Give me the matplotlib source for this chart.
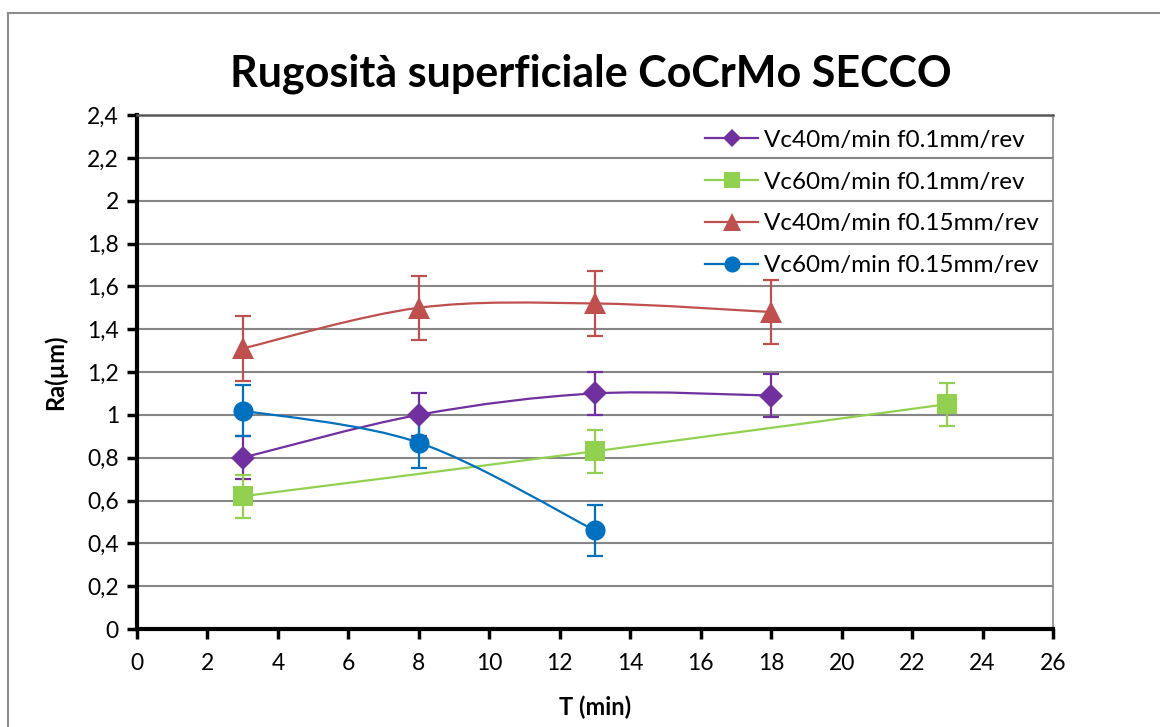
import numpy as np
import matplotlib
matplotlib.use("Agg")
import matplotlib.pyplot as plt
from matplotlib.path import Path
from matplotlib.patches import PathPatch
from matplotlib.lines import Line2D

plt.rcParams['font.family'] = ['Lato', 'DejaVu Sans']

# surface roughness data (Ra in micrometres vs machining time in minutes)
t_vc40_f01 = [3, 8, 13, 18]
ra_vc40_f01 = [0.80, 1.00, 1.10, 1.09]
err_vc40_f01 = [0.10, 0.10, 0.10, 0.10]

t_vc60_f01 = [3, 13, 23]
ra_vc60_f01 = [0.62, 0.83, 1.05]
err_vc60_f01 = [0.10, 0.10, 0.10]

t_vc40_f015 = [3, 8, 13, 18]
ra_vc40_f015 = [1.31, 1.50, 1.52, 1.48]
err_vc40_f015 = [0.15, 0.15, 0.15, 0.15]

t_vc60_f015 = [3, 8, 13]
ra_vc60_f015 = [1.02, 0.87, 0.46]
err_vc60_f015 = [0.12, 0.12, 0.12]

labels = ["Vc40m/min f0.1mm/rev", "Vc60m/min f0.1mm/rev",
          "Vc40m/min f0.15mm/rev", "Vc60m/min f0.15mm/rev"]

x_ticks = list(range(0, 27, 2))
y_ticks = [0, 0.2, 0.4, 0.6, 0.8, 1.0, 1.2, 1.4, 1.6, 1.8, 2.0, 2.2, 2.4]
y_ticklabels = ['0', '0,2', '0,4', '0,6', '0,8', '1', '1,2', '1,4', '1,6',
                '1,8', '2', '2,2', '2,4']


def smooth_path(xs, ys):
    # cubic bezier through each point, tangents from neighbours (spreadsheet-style smoothing)
    p = np.column_stack([xs, ys]).astype(float)
    n = len(p)
    verts = [p[0]]
    codes = [Path.MOVETO]
    for i in range(n - 1):
        p0 = p[i - 1] if i > 0 else p[i]
        p1, p2 = p[i], p[i + 1]
        p3 = p[i + 2] if i + 2 < n else p[i + 1]
        c1 = p1 + (p2 - p0) / 6.0
        c2 = p2 - (p3 - p1) / 6.0
        verts += [c1, c2, p2]
        codes += [Path.CURVE4] * 3
    return Path(verts, codes)


fig = plt.figure(figsize=(11.6, 7.27), dpi=100)
ax = fig.add_axes([0.1181, 0.1348, 0.7897, 0.7070])

series = [
    (t_vc40_f01, ra_vc40_f01, err_vc40_f01, '#7030A0', 'D', 12.0),
    (t_vc60_f01, ra_vc60_f01, err_vc60_f01, '#92D050', 's', 14.0),
    (t_vc40_f015, ra_vc40_f015, err_vc40_f015, '#C0504D', '^', 16.5),
    (t_vc60_f015, ra_vc60_f015, err_vc60_f015, '#0070C0', 'o', 14.5),
]

handles = []
for (xs, ys, es, col, mk, ms), lab in zip(series, labels):
    ax.add_patch(PathPatch(smooth_path(xs, ys), facecolor='none',
                           edgecolor=col, lw=1.6, zorder=3))
    ax.errorbar(xs, ys, yerr=es, fmt='none', ecolor=col, elinewidth=1.6,
                capsize=5.8, capthick=1.6, zorder=4)
    ax.plot(xs, ys, linestyle='none', marker=mk, markersize=ms,
            color=col, markeredgewidth=0, zorder=5)
    handles.append(Line2D([], [], color=col, lw=1.6, marker=mk,
                          markersize=ms * 0.8, markeredgewidth=0))

ax.set_xlim(0, 26)
ax.set_ylim(0, 2.4)
ax.set_xticks(x_ticks)
ax.set_yticks(y_ticks)
ax.set_yticklabels(y_ticklabels)
ax.tick_params(axis='both', labelsize=16.5, length=7, width=2.5, direction='out',
               color='black', pad=6)
ax.tick_params(axis='x', pad=10)

ax.grid(axis='y', color='#868686', lw=1.5, zorder=0)
ax.set_axisbelow(True)
for side in ['left', 'bottom']:
    ax.spines[side].set_linewidth(3)
    ax.spines[side].set_color('black')
ax.spines['top'].set_color('#595959')
ax.spines['top'].set_linewidth(1.8)
ax.spines['right'].set_color('#868686')
ax.spines['right'].set_linewidth(1.2)

ax.set_xlabel('T (min)', fontsize=17, fontweight='bold', labelpad=16)
ax.set_ylabel('Ra(µm)', fontsize=17, fontweight='bold', labelpad=14)

fig.suptitle('Rugosità superficiale CoCrMo SECCO', fontsize=31,
             fontweight='bold', x=0.509, y=0.927)

leg = ax.legend(handles, labels, loc='upper right', bbox_to_anchor=(1.0, 1.0),
                frameon=False, fontsize=17.5, handlelength=2.15,
                handletextpad=0.25, labelspacing=0.86, borderaxespad=0.3,
                borderpad=0.3, numpoints=1)

# chart border
fig.add_artist(Line2D([0.0069, 0.0069], [0.0, 0.982], color='#8c8c8c', lw=1.5,
                      transform=fig.transFigure))
fig.add_artist(Line2D([0.0069, 1.0], [0.982, 0.982], color='#8c8c8c', lw=1.5,
                      transform=fig.transFigure))

fig.savefig('out.png', dpi=100)
